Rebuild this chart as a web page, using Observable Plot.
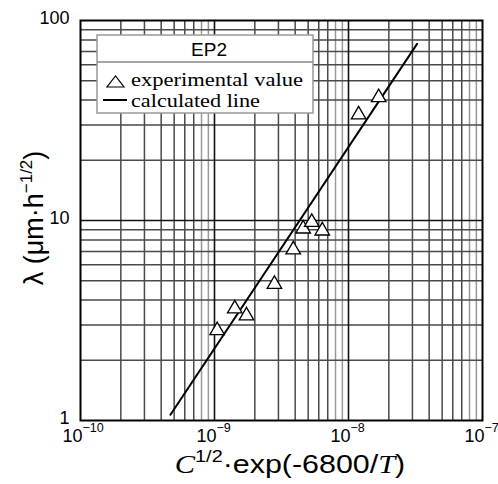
<!DOCTYPE html>
<html><head><meta charset="utf-8">
<script src="https://cdn.jsdelivr.net/npm/d3@7"></script>
<script src="https://cdn.jsdelivr.net/npm/@observablehq/plot@0.6"></script>
<style>body{margin:0;background:#fff} #chart{width:498px;height:484px}</style>
</head><body><div id="chart"></div>
<script>
// experimental values
const expX = [1.047e-9, 1.417e-9, 1.733e-9, 2.80e-9, 3.87e-9, 4.59e-9, 5.32e-9, 6.37e-9, 1.19e-8, 1.68e-8];
const expY = [2.82, 3.62, 3.34, 4.80, 7.14, 9.09, 9.80, 8.88, 33.8, 41.2];
// calculated line endpoints
const lineX = [4.69e-10, 3.25e-8];
const lineY = [1.068, 76.4];
// axes
const xDecades = [1e-10, 1e-9, 1e-8, 1e-7];
const xDecadeExp = ["−10", "−9", "−8", "−7"];
const yDecades = [1, 10, 100];
const yDecadeLabels = ["1", "10", "100"];
const xMinorDark = [2e-10,3e-10,4e-10,5e-10,6e-10,7e-10, 2e-9,3e-9,4e-9,5e-9,6e-9,7e-9, 2e-8,3e-8,4e-8,5e-8,6e-8,7e-8];
const xMinorLight = [8e-10,9e-10, 8e-9,9e-9, 8e-8,9e-8];
const yMinor = [2,3,4,5,6,7,8,9, 20,30,40,50,60,70,80,90];
const xMajorInner = [1e-9, 1e-8];
const yMajorInner = [10];

const expData = expX.map((x, i) => ({x, y: expY[i]}));
const lineData = lineX.map((x, i) => ({x, y: lineY[i]}));

const plot = Plot.plot({
  width: 498, height: 484,
  marginLeft: 80, marginRight: 16, marginTop: 20, marginBottom: 64,
  style: {fontFamily: "'Liberation Sans', Arial, sans-serif", background: "#fff"},
  x: {type: "log", domain: [1e-10, 1e-7], axis: null},
  y: {type: "log", domain: [1, 100], axis: null},
  marks: [
    Plot.ruleX(xMinorLight, {stroke: "#999", strokeWidth: 1.5}),
    Plot.ruleX(xMinorDark, {stroke: "#4a4a4a", strokeWidth: 1.5}),
    Plot.ruleY(yMinor, {stroke: "#4a4a4a", strokeWidth: 1.5}),
    Plot.ruleX(xMajorInner, {stroke: "#111", strokeWidth: 1.6}),
    Plot.ruleY(yMajorInner, {stroke: "#111", strokeWidth: 1.6}),
    Plot.frame({stroke: "#000", strokeWidth: 2}),
    Plot.line(lineData, {x: "x", y: "y", stroke: "#000", strokeWidth: 2}),
    Plot.dot(expData, {x: "x", y: "y", symbol: "triangle", r: 5.4, fill: "white", stroke: "#000", strokeWidth: 1.3}),
    // y tick labels
    Plot.text(yDecades, {x: () => 1e-10, y: d => d, text: (d, i) => yDecadeLabels[i], textAnchor: "end", dx: -11, dy: -2, fontSize: 18, fill: "#000"}),
    // x tick labels: base and exponent
    Plot.text(xDecades, {x: d => d, y: () => 1, text: () => "10", textAnchor: "end", dx: 2, dy: 16, fontSize: 18, fill: "#000"}),
    Plot.text(xDecades, {x: d => d, y: () => 1, text: (d, i) => xDecadeExp[i], textAnchor: "start", dx: 2, dy: 7, fontSize: 12.5, fill: "#000"})
  ]
});
document.getElementById("chart").appendChild(plot);

const svg = d3.select(plot);
const sans = "'Liberation Sans', Arial, sans-serif";
const serif = "'Liberation Serif', 'Times New Roman', serif";
// y axis label
const yl = svg.append("text")
  .attr("transform", "translate(43,218) rotate(-90)")
  .attr("text-anchor", "middle")
  .attr("font-family", sans)
  .attr("font-size", 27).attr("fill", "#000");
yl.append("tspan").text("λ (μm·h");
yl.append("tspan").attr("dy", -11).attr("font-size", 17).text("−1/2");
yl.append("tspan").attr("dy", 11).text(")");

// x axis label
const xl = svg.append("text")
  .attr("transform", "translate(290,473) scale(1.17,1)")
  .attr("text-anchor", "middle")
  .attr("font-family", sans)
  .attr("font-size", 26).attr("fill", "#000");
xl.append("tspan").attr("font-family", serif).attr("font-style", "italic").text("C");
xl.append("tspan").attr("dy", -11).attr("font-size", 17).text("1/2");
xl.append("tspan").attr("dy", 11).text("·exp(-6800/");
xl.append("tspan").attr("font-family", serif).attr("font-style", "italic").text("T");
xl.append("tspan").text(")");

// legend
const lg = svg.append("g").attr("text-anchor", "start");
lg.append("rect").attr("x", 97).attr("y", 35).attr("width", 216).attr("height", 78)
  .attr("fill", "#fff").attr("stroke", "#999").attr("stroke-width", 1.5);
lg.append("line").attr("x1", 97).attr("x2", 313).attr("y1", 62).attr("y2", 62)
  .attr("stroke", "#888").attr("stroke-width", 1.5);
lg.append("text").attr("x", 209).attr("y", 49).attr("text-anchor", "middle").attr("dominant-baseline", "central")
  .attr("font-family", sans).attr("font-size", 19).attr("fill", "#000").text("EP2");
lg.append("path").attr("d", "M107,87L124,87L115.5,76Z").attr("fill", "none").attr("stroke", "#000").attr("stroke-width", 1.2);
lg.append("text").attr("x", 131).attr("y", 86).attr("text-anchor", "start")
  .attr("textLength", 172).attr("lengthAdjust", "spacingAndGlyphs")
  .attr("font-family", serif).attr("font-size", 19).attr("fill", "#000").text("experimental value");
lg.append("line").attr("x1", 103).attr("x2", 127).attr("y1", 100).attr("y2", 100).attr("stroke", "#000").attr("stroke-width", 2);
lg.append("text").attr("x", 131).attr("y", 107).attr("text-anchor", "start")
  .attr("textLength", 129).attr("lengthAdjust", "spacingAndGlyphs")
  .attr("font-family", serif).attr("font-size", 19).attr("fill", "#000").text("calculated line");
</script>
</body></html>
